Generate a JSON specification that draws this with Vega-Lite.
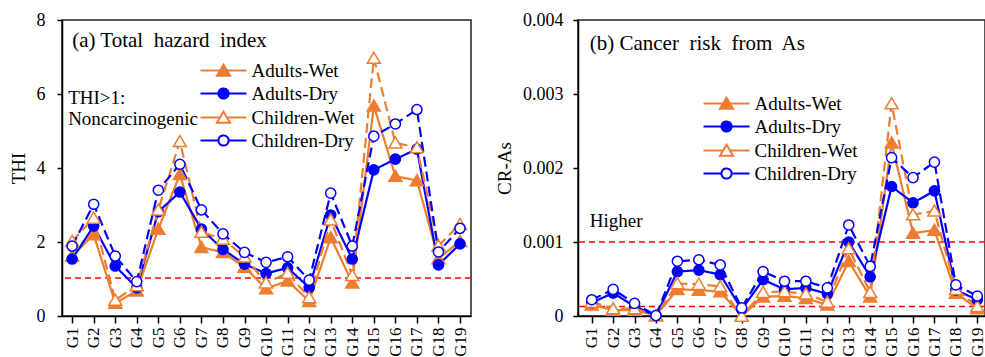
{
  "$schema": "https://vega.github.io/schema/vega-lite/v6.json",
  "padding": {"left": 8, "top": 10, "right": 0, "bottom": 0},
  "spacing": 21,
  "background": "white",
  "datasets": {
    "thi": [
      {"g":"G1","s":"Adults-Wet","v":1.62},{"g":"G1","s":"Adults-Dry","v":1.54},{"g":"G1","s":"Children-Wet","v":2.02},{"g":"G1","s":"Children-Dry","v":1.89},
      {"g":"G2","s":"Adults-Wet","v":2.2},{"g":"G2","s":"Adults-Dry","v":2.43},{"g":"G2","s":"Children-Wet","v":2.65},{"g":"G2","s":"Children-Dry","v":3.02},
      {"g":"G3","s":"Adults-Wet","v":0.35},{"g":"G3","s":"Adults-Dry","v":1.35},{"g":"G3","s":"Children-Wet","v":0.43},{"g":"G3","s":"Children-Dry","v":1.62},
      {"g":"G4","s":"Adults-Wet","v":0.68},{"g":"G4","s":"Adults-Dry","v":0.76},{"g":"G4","s":"Children-Wet","v":0.82},{"g":"G4","s":"Children-Dry","v":0.93},
      {"g":"G5","s":"Adults-Wet","v":2.35},{"g":"G5","s":"Adults-Dry","v":2.82},{"g":"G5","s":"Children-Wet","v":2.87},{"g":"G5","s":"Children-Dry","v":3.4},
      {"g":"G6","s":"Adults-Wet","v":3.83},{"g":"G6","s":"Adults-Dry","v":3.35},{"g":"G6","s":"Children-Wet","v":4.72},{"g":"G6","s":"Children-Dry","v":4.1},
      {"g":"G7","s":"Adults-Wet","v":1.86},{"g":"G7","s":"Adults-Dry","v":2.35},{"g":"G7","s":"Children-Wet","v":2.27},{"g":"G7","s":"Children-Dry","v":2.87},
      {"g":"G8","s":"Adults-Wet","v":1.72},{"g":"G8","s":"Adults-Dry","v":1.8},{"g":"G8","s":"Children-Wet","v":2.08},{"g":"G8","s":"Children-Dry","v":2.22},
      {"g":"G9","s":"Adults-Wet","v":1.32},{"g":"G9","s":"Adults-Dry","v":1.4},{"g":"G9","s":"Children-Wet","v":1.6},{"g":"G9","s":"Children-Dry","v":1.72},
      {"g":"G10","s":"Adults-Wet","v":0.74},{"g":"G10","s":"Adults-Dry","v":1.15},{"g":"G10","s":"Children-Wet","v":0.9},{"g":"G10","s":"Children-Dry","v":1.45},
      {"g":"G11","s":"Adults-Wet","v":0.95},{"g":"G11","s":"Adults-Dry","v":1.3},{"g":"G11","s":"Children-Wet","v":1.16},{"g":"G11","s":"Children-Dry","v":1.6},
      {"g":"G12","s":"Adults-Wet","v":0.4},{"g":"G12","s":"Adults-Dry","v":0.77},{"g":"G12","s":"Children-Wet","v":0.5},{"g":"G12","s":"Children-Dry","v":0.97},
      {"g":"G13","s":"Adults-Wet","v":2.12},{"g":"G13","s":"Adults-Dry","v":2.73},{"g":"G13","s":"Children-Wet","v":2.6},{"g":"G13","s":"Children-Dry","v":3.32},
      {"g":"G14","s":"Adults-Wet","v":0.9},{"g":"G14","s":"Adults-Dry","v":1.54},{"g":"G14","s":"Children-Wet","v":1.1},{"g":"G14","s":"Children-Dry","v":1.89},
      {"g":"G15","s":"Adults-Wet","v":5.68},{"g":"G15","s":"Adults-Dry","v":3.95},{"g":"G15","s":"Children-Wet","v":6.97},{"g":"G15","s":"Children-Dry","v":4.86},
      {"g":"G16","s":"Adults-Wet","v":3.78},{"g":"G16","s":"Adults-Dry","v":4.24},{"g":"G16","s":"Children-Wet","v":4.68},{"g":"G16","s":"Children-Dry","v":5.19},
      {"g":"G17","s":"Adults-Wet","v":3.66},{"g":"G17","s":"Adults-Dry","v":4.51},{"g":"G17","s":"Children-Wet","v":4.55},{"g":"G17","s":"Children-Dry","v":5.58},
      {"g":"G18","s":"Adults-Wet","v":1.55},{"g":"G18","s":"Adults-Dry","v":1.38},{"g":"G18","s":"Children-Wet","v":1.9},{"g":"G18","s":"Children-Dry","v":1.73},
      {"g":"G19","s":"Adults-Wet","v":2.02},{"g":"G19","s":"Adults-Dry","v":1.95},{"g":"G19","s":"Children-Wet","v":2.48},{"g":"G19","s":"Children-Dry","v":2.37}
    ],
    "cr": [
      {"g":"G1","s":"Adults-Wet","v":0.00015},{"g":"G1","s":"Adults-Dry","v":0.00018},{"g":"G1","s":"Children-Wet","v":0.00019},{"g":"G1","s":"Children-Dry","v":0.00022},
      {"g":"G2","s":"Adults-Wet","v":0.00008},{"g":"G2","s":"Adults-Dry","v":0.00031},{"g":"G2","s":"Children-Wet","v":0.0001},{"g":"G2","s":"Children-Dry","v":0.00036},
      {"g":"G3","s":"Adults-Wet","v":0.00008},{"g":"G3","s":"Adults-Dry","v":0.00013},{"g":"G3","s":"Children-Wet","v":0.0001},{"g":"G3","s":"Children-Dry","v":0.00017},
      {"g":"G4","s":"Adults-Wet","v":0.000005},{"g":"G4","s":"Adults-Dry","v":0.000005},{"g":"G4","s":"Children-Wet","v":0.000006},{"g":"G4","s":"Children-Dry","v":0.000006},
      {"g":"G5","s":"Adults-Wet","v":0.00036},{"g":"G5","s":"Adults-Dry","v":0.0006},{"g":"G5","s":"Children-Wet","v":0.00044},{"g":"G5","s":"Children-Dry","v":0.00074},
      {"g":"G6","s":"Adults-Wet","v":0.00035},{"g":"G6","s":"Adults-Dry","v":0.00062},{"g":"G6","s":"Children-Wet","v":0.00043},{"g":"G6","s":"Children-Dry","v":0.00076},
      {"g":"G7","s":"Adults-Wet","v":0.00033},{"g":"G7","s":"Adults-Dry","v":0.00056},{"g":"G7","s":"Children-Wet","v":0.0004},{"g":"G7","s":"Children-Dry","v":0.00069},
      {"g":"G8","s":"Adults-Wet","v":0.0},{"g":"G8","s":"Adults-Dry","v":0.00009},{"g":"G8","s":"Children-Wet","v":0.0},{"g":"G8","s":"Children-Dry","v":0.00011},
      {"g":"G9","s":"Adults-Wet","v":0.00026},{"g":"G9","s":"Adults-Dry","v":0.00049},{"g":"G9","s":"Children-Wet","v":0.00032},{"g":"G9","s":"Children-Dry","v":0.0006},
      {"g":"G10","s":"Adults-Wet","v":0.00027},{"g":"G10","s":"Adults-Dry","v":0.00036},{"g":"G10","s":"Children-Wet","v":0.00033},{"g":"G10","s":"Children-Dry","v":0.00047},
      {"g":"G11","s":"Adults-Wet","v":0.00024},{"g":"G11","s":"Adults-Dry","v":0.00038},{"g":"G11","s":"Children-Wet","v":0.0003},{"g":"G11","s":"Children-Dry","v":0.00047},
      {"g":"G12","s":"Adults-Wet","v":0.00015},{"g":"G12","s":"Adults-Dry","v":0.0003},{"g":"G12","s":"Children-Wet","v":0.00019},{"g":"G12","s":"Children-Dry","v":0.00038},
      {"g":"G13","s":"Adults-Wet","v":0.00074},{"g":"G13","s":"Adults-Dry","v":0.001},{"g":"G13","s":"Children-Wet","v":0.00091},{"g":"G13","s":"Children-Dry","v":0.00123},
      {"g":"G14","s":"Adults-Wet","v":0.00026},{"g":"G14","s":"Adults-Dry","v":0.00053},{"g":"G14","s":"Children-Wet","v":0.00032},{"g":"G14","s":"Children-Dry","v":0.00067},
      {"g":"G15","s":"Adults-Wet","v":0.00234},{"g":"G15","s":"Adults-Dry","v":0.00175},{"g":"G15","s":"Children-Wet","v":0.00287},{"g":"G15","s":"Children-Dry","v":0.00214},
      {"g":"G16","s":"Adults-Wet","v":0.00112},{"g":"G16","s":"Adults-Dry","v":0.00153},{"g":"G16","s":"Children-Wet","v":0.00137},{"g":"G16","s":"Children-Dry","v":0.00187},
      {"g":"G17","s":"Adults-Wet","v":0.00116},{"g":"G17","s":"Adults-Dry","v":0.00169},{"g":"G17","s":"Children-Wet","v":0.00142},{"g":"G17","s":"Children-Dry","v":0.00208},
      {"g":"G18","s":"Adults-Wet","v":0.00031},{"g":"G18","s":"Adults-Dry","v":0.00035},{"g":"G18","s":"Children-Wet","v":0.00036},{"g":"G18","s":"Children-Dry","v":0.00042},
      {"g":"G19","s":"Adults-Wet","v":0.0001},{"g":"G19","s":"Adults-Dry","v":0.00022},{"g":"G19","s":"Children-Wet","v":0.00013},{"g":"G19","s":"Children-Dry","v":0.00027}
    ]
  },
  "resolve": {
    "scale": {"x": "independent", "y": "independent", "color": "independent", "stroke": "independent", "fill": "independent", "shape": "independent", "strokeDash": "independent"},
    "legend": {"color": "independent"}
  },
  "hconcat": [
    {
      "width": 409,
      "height": 296,
      "data": {"name": "thi"},
      "layer": [
        {
          "data": {"values": [{"y": 1.03}]},
          "mark": {"type": "rule", "color": "#FF0000", "strokeDash": [6, 4], "strokeWidth": 1.5},
          "encoding": {"y": {"field": "y", "type": "quantitative"}}
        },
        {
          "mark": {"type": "line", "strokeWidth": 2.2},
          "encoding": {
            "x": {"field": "g", "type": "ordinal",
              "scale": {"type": "point", "padding": 0.49, "align": 0.48, "domain": ["G1","G2","G3","G4","G5","G6","G7","G8","G9","G10","G11","G12","G13","G14","G15","G16","G17","G18","G19"]},
              "axis": {"title": null, "labelAngle": -90, "labelFontSize": 17, "tickSize": 7, "labelPadding": 4, "labelOverlap": false,
                "encode": {"ticks": {"update": {"y": {"value": -4}}}}}},
            "y": {"field": "v", "type": "quantitative",
              "scale": {"domain": [0, 8], "nice": false, "zero": true},
              "axis": {"title": "THI", "titleFontSize": 19, "titlePadding": 8, "tickSize": 5, "labelPadding": 12, "labelOverlap": false,
                "labelFontSize": 18,
                "values": [0,1,2,3,4,5,6,7,8],
                "labelExpr": "datum.value % 2 == 0 ? datum.label : ''",
                "encode": {"ticks": {"update": {"x": {"signal": "datum.value % 2 == 0 ? 5 : 0"}, "x2": {"signal": "datum.value % 2 == 0 ? -5 : 5"}}}}}},
            "color": {"field": "s", "type": "nominal",
              "scale": {"domain": ["Adults-Wet","Adults-Dry","Children-Wet","Children-Dry"], "range": ["#ED7D31","#0000FF","#ED7D31","#0000FF"]},
              "legend": {"orient": "none", "legendX": 152, "legendY": 41, "title": null, "padding": 0,
                "labelFont": "Liberation Serif", "labelFontSize": 19, "labelColor": "black", "labelOffset": 18.5,
                "symbolSize": 169, "symbolStrokeWidth": 2, "rowPadding": 3,
                "encode": {"symbols": {"update": {
                  "shape": {"signal": "indexof(datum.value, 'Wet') >= 0 ? 'M-3.54,0H-0.53M0.53,0H3.54M0,-0.9L1,0.8L-1,0.8Z' : 'M-3.54,0H-0.78M0.78,0H3.54M-0.78,0A0.78,0.78,0,1,1,0.78,0A0.78,0.78,0,1,1,-0.78,0Z'"},
                  "fill": {"signal": "datum.value == 'Adults-Wet' ? '#ED7D31' : datum.value == 'Adults-Dry' ? '#0000FF' : '#FFFFFF'"},
                  "stroke": {"signal": "indexof(datum.value, 'Wet') >= 0 ? '#ED7D31' : '#0000FF'"},
                  "strokeDash": {"value": [1, 0]},
                  "opacity": {"value": 1},
                  "fillOpacity": {"value": 1}
                }}}}},
            "strokeDash": {"field": "s", "type": "nominal",
              "scale": {"domain": ["Adults-Dry","Adults-Wet","Children-Dry","Children-Wet"], "range": [[1,0],[1,0],[10,5],[10,5]]},
              "legend": null}
          }
        },
        {
          "mark": {"type": "point", "strokeWidth": 1.5, "opacity": 1, "size": 169},
          "encoding": {
            "x": {"field": "g", "type": "ordinal"},
            "y": {"field": "v", "type": "quantitative"},
            "shape": {"field": "s", "type": "nominal",
              "scale": {"domain": ["Adults-Dry","Adults-Wet","Children-Dry","Children-Wet"], "range": ["M-0.78,0A0.78,0.78,0,1,1,0.78,0A0.78,0.78,0,1,1,-0.78,0Z","M0,-0.9L1,0.8L-1,0.8Z","M-0.78,0A0.78,0.78,0,1,1,0.78,0A0.78,0.78,0,1,1,-0.78,0Z","M0,-0.9L1,0.8L-1,0.8Z"]},
              "legend": null},
            "fill": {"field": "s", "type": "nominal",
              "scale": {"domain": ["Adults-Dry","Adults-Wet","Children-Dry","Children-Wet"], "range": ["#0000FF","#ED7D31","#FFFFFF","#FFFFFF"]},
              "legend": null},
            "stroke": {"field": "s", "type": "nominal",
              "scale": {"domain": ["Adults-Dry","Adults-Wet","Children-Dry","Children-Wet"], "range": ["#0000FF","#ED7D31","#0000FF","#ED7D31"]},
              "legend": null}
          }
        },
        {
          "data": {"values": [{"t": "(a) Total\u00a0 hazard\u00a0 index", "g": "G1", "v": 7.43}]},
          "mark": {"type": "text", "align": "left", "baseline": "middle", "fontSize": 21, "font": "Liberation Serif", "color": "black", "dx": 0},
          "encoding": {"x": {"field": "g", "type": "ordinal"}, "y": {"field": "v", "type": "quantitative"}, "text": {"field": "t"}}
        },
        {
          "data": {"values": [{"t": "THI>1:", "g": "G1", "v": 5.89}, {"t": "Noncarcinogenic", "g": "G1", "v": 5.32}]},
          "mark": {"type": "text", "align": "left", "baseline": "middle", "fontSize": 19, "font": "Liberation Serif", "color": "black", "dx": -4},
          "encoding": {"x": {"field": "g", "type": "ordinal"}, "y": {"field": "v", "type": "quantitative"}, "text": {"field": "t"}}
        }
      ]
    },
    {
      "width": 407,
      "height": 296,
      "data": {"name": "cr"},
      "layer": [
        {
          "data": {"values": [{"y": 0.001}, {"y": 0.00013}]},
          "mark": {"type": "rule", "color": "#FF0000", "strokeDash": [6, 4], "strokeWidth": 1.5},
          "encoding": {"y": {"field": "y", "type": "quantitative"}}
        },
        {
          "mark": {"type": "line", "strokeWidth": 2.2},
          "encoding": {
            "x": {"field": "g", "type": "ordinal",
              "scale": {"type": "point", "padding": 0.5, "align": 0.64, "domain": ["G1","G2","G3","G4","G5","G6","G7","G8","G9","G10","G11","G12","G13","G14","G15","G16","G17","G18","G19"]},
              "axis": {"title": null, "labelAngle": -90, "labelFontSize": 17, "tickSize": 7, "labelPadding": 4, "labelOverlap": false,
                "encode": {"ticks": {"update": {"y": {"value": -4}}}}}},
            "y": {"field": "v", "type": "quantitative",
              "scale": {"domain": [0, 0.004], "nice": false, "zero": true},
              "axis": {"title": "CR-As", "titleFontSize": 19, "titlePadding": 8, "tickSize": 5, "labelPadding": 10, "labelOverlap": false,
                "labelFontSize": 18,
                "values": [0, 0.001, 0.002, 0.003, 0.004],
                "labelExpr": "datum.value == 0 ? '0' : format(datum.value, '.3f')",
                "encode": {"ticks": {"update": {"x": {"value": 5}, "x2": {"value": -5}}}}}},
            "color": {"field": "s", "type": "nominal",
              "scale": {"domain": ["Adults-Wet","Adults-Dry","Children-Wet","Children-Dry"], "range": ["#ED7D31","#0000FF","#ED7D31","#0000FF"]},
              "legend": {"orient": "none", "legendX": 139, "legendY": 74, "title": null, "padding": 0,
                "labelFont": "Liberation Serif", "labelFontSize": 19, "labelColor": "black", "labelOffset": 18.5,
                "symbolSize": 169, "symbolStrokeWidth": 2, "rowPadding": 3,
                "encode": {"symbols": {"update": {
                  "shape": {"signal": "indexof(datum.value, 'Wet') >= 0 ? 'M-3.54,0H-0.53M0.53,0H3.54M0,-0.9L1,0.8L-1,0.8Z' : 'M-3.54,0H-0.78M0.78,0H3.54M-0.78,0A0.78,0.78,0,1,1,0.78,0A0.78,0.78,0,1,1,-0.78,0Z'"},
                  "fill": {"signal": "datum.value == 'Adults-Wet' ? '#ED7D31' : datum.value == 'Adults-Dry' ? '#0000FF' : '#FFFFFF'"},
                  "stroke": {"signal": "indexof(datum.value, 'Wet') >= 0 ? '#ED7D31' : '#0000FF'"},
                  "strokeDash": {"value": [1, 0]},
                  "opacity": {"value": 1},
                  "fillOpacity": {"value": 1}
                }}}}},
            "strokeDash": {"field": "s", "type": "nominal",
              "scale": {"domain": ["Adults-Dry","Adults-Wet","Children-Dry","Children-Wet"], "range": [[1,0],[1,0],[10,5],[10,5]]},
              "legend": null}
          }
        },
        {
          "mark": {"type": "point", "strokeWidth": 1.5, "opacity": 1, "size": 169},
          "encoding": {
            "x": {"field": "g", "type": "ordinal"},
            "y": {"field": "v", "type": "quantitative"},
            "shape": {"field": "s", "type": "nominal",
              "scale": {"domain": ["Adults-Dry","Adults-Wet","Children-Dry","Children-Wet"], "range": ["M-0.78,0A0.78,0.78,0,1,1,0.78,0A0.78,0.78,0,1,1,-0.78,0Z","M0,-0.9L1,0.8L-1,0.8Z","M-0.78,0A0.78,0.78,0,1,1,0.78,0A0.78,0.78,0,1,1,-0.78,0Z","M0,-0.9L1,0.8L-1,0.8Z"]},
              "legend": null},
            "fill": {"field": "s", "type": "nominal",
              "scale": {"domain": ["Adults-Dry","Adults-Wet","Children-Dry","Children-Wet"], "range": ["#0000FF","#ED7D31","#FFFFFF","#FFFFFF"]},
              "legend": null},
            "stroke": {"field": "s", "type": "nominal",
              "scale": {"domain": ["Adults-Dry","Adults-Wet","Children-Dry","Children-Wet"], "range": ["#0000FF","#ED7D31","#0000FF","#ED7D31"]},
              "legend": null}
          }
        },
        {
          "data": {"values": [{"t": "(b) Cancer\u00a0 risk\u00a0 from\u00a0 As", "g": "G1", "v": 0.00368}, {"t": "Higher", "g": "G1", "v": 0.00128}]},
          "mark": {"type": "text", "align": "left", "baseline": "middle", "font": "Liberation Serif", "color": "black", "dx": -2},
          "encoding": {"x": {"field": "g", "type": "ordinal"}, "y": {"field": "v", "type": "quantitative"}, "text": {"field": "t"},
            "size": {"condition": {"test": "datum.t == 'Higher'", "value": 19}, "value": 21}}
        }
      ]
    }
  ],
  "config": {
    "font": "Liberation Serif",
    "view": {"stroke": "#222222", "strokeWidth": 1.5},
    "axis": {"grid": false, "domainColor": "black", "domainWidth": 1.5, "tickColor": "black", "tickWidth": 1.5,
      "labelFont": "Liberation Serif", "labelColor": "black", "titleFont": "Liberation Serif", "titleColor": "black",
      "titleFontWeight": "normal", "labelOverlap": false, "labelFlush": false}
  }
}
